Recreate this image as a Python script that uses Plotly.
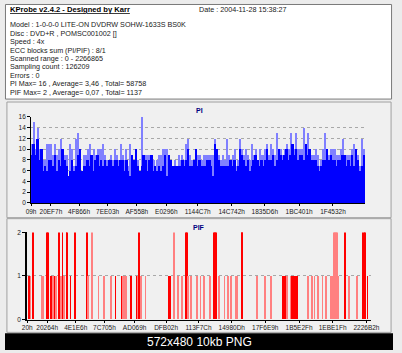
import plotly.graph_objects as go

W, H = 402, 353

# ---------------- data ----------------
header_title = "KProbe v2.4.2 - Designed by Karr"
header_date = "Date : 2004-11-28 15:38:27"
header_lines = [
    "Model : 1-0-0-0 LITE-ON DVDRW SOHW-1633S BS0K",
    "Disc : DVD+R , POMSC001002 []",
    "Speed : 4x",
    "ECC blocks sum (PI/PIF) : 8/1",
    "Scanned range : 0 - 2266865",
    "Sampling count : 126209",
    "Errors : 0",
    "PI Max= 16 , Average= 3,46 , Total= 58758",
    "PIF Max= 2 , Average= 0,07 , Total= 1137",
]
scan_end = 2266865

pi_dark = [
    9, 11, 9, 12, 8, 10, 6, 7, 6, 8,
    8, 7, 9, 6, 8, 7, 10, 8, 7, 5,
    6, 8, 6, 7, 9, 10, 6, 7, 7, 8,
    7, 9, 6, 8, 9, 7, 8, 7, 8, 7,
    8, 8, 7, 8, 8, 7, 8, 8, 6, 8,
    6, 5, 9, 8, 10, 7, 6, 7, 9, 8,
    6, 8, 9, 6, 7, 6, 7, 6, 7, 9,
    5, 9, 8, 7, 7, 7, 7, 7, 8, 7,
    8, 10, 7, 7, 8, 10, 7, 8, 7, 7,
    7, 8, 8, 7, 5, 11, 10, 8, 7, 7,
    7, 7, 7, 8, 7, 8, 6, 7, 10, 9,
    8, 7, 8, 6, 7, 8, 9, 8, 7, 8,
    7, 8, 10, 8, 8, 9, 7, 8, 10, 9,
    8, 9, 10, 8, 9, 11, 9, 10, 8, 9,
    9, 8, 11, 9, 10, 8, 8, 8, 7, 6,
    7, 8, 8, 10, 8, 9, 8, 8, 7, 8,
    8, 9, 9, 7, 8, 7, 9, 7, 10, 8, 6, 7, 9,
]
pi_light = [
    11, 15, 10, 14, 10, 10, 8, 8, 11, 11,
    11, 9, 11, 9, 10, 12, 10, 9, 9, 5,
    11, 10, 7, 12, 13, 10, 6, 9, 9, 10,
    11, 9, 10, 9, 10, 10, 10, 11, 9, 8,
    8, 9, 8, 10, 9, 8, 11, 9, 8, 10,
    7, 11, 9, 8, 10, 8, 6, 16, 9, 9,
    9, 9, 9, 8, 7, 8, 9, 9, 10, 10,
    10, 9, 8, 7, 8, 7, 9, 8, 9, 8,
    11, 12, 9, 8, 8, 10, 9, 9, 8, 9,
    9, 9, 9, 9, 9, 12, 10, 9, 8, 9,
    8, 12, 9, 8, 9, 10, 7, 8, 12, 10,
    9, 10, 9, 8, 11, 9, 10, 8, 10, 9,
    9, 10, 11, 9, 11, 10, 9, 13, 10, 10,
    9, 10, 11, 10, 13, 11, 10, 13, 10, 10,
    10, 14, 11, 13, 10, 9, 9, 10, 9, 7,
    8, 10, 13, 10, 9, 10, 10, 10, 9, 9,
    10, 12, 9, 9, 9, 9, 10, 11, 10, 9, 7, 12, 10,
]
pi_tick_text = ["09h", "20EF7h", "4F866h", "7EE03h", "AF558h", "E0296h",
                "1144C7h", "14C742h", "1835D6h", "1BC401h", "1F4532h"]

# PIF bars: LBA position, value, shade (1 = strong red, 0 = pale red)
pif_lba = [
    40000, 133000, 137800, 209500, 235000, 260300, 264800, 315600, 393700, 429900,
    738500, 971500, 1049600, 1054100, 1230000, 1236300, 1242700, 1249000, 1416000, 1420500,
    2023700, 2030000, 2036400, 2042800, 2097400, 2214200, 2222500, 2230800,
    12700, 23500, 97200, 108000, 160700, 171500, 182200, 192600, 224200, 245700,
    287700, 400000, 471800, 510000, 552500, 584200, 626700, 633100, 641400, 654000,
    685800, 721900, 728300, 753700, 781000, 933500, 944200, 997000, 1022300, 1060500,
    1081400, 1124000, 1144900, 1166500, 1208400, 1268000, 1303700, 1325300, 1346200, 1378000,
    1388700, 1515700, 1568500, 1611000, 1691000, 1699900, 1716400, 1738000, 1748200, 1759000,
    1769700, 1779900, 1854200, 1881500, 1896700, 1917700, 1949500, 1970400, 2002200, 2013000,
    2055500, 2122800, 2178000, 2246000,
]
pif_val = [2] * 28 + [1] * 66
pif_shade = [
    1, 1, 1, 1, 1, 1, 1, 1, 1, 0,
    1, 0, 1, 1, 1, 1, 1, 1, 1, 1,
    0, 0, 0, 0, 1, 1, 1, 1,
    1, 0, 0, 0, 1, 0, 1, 0, 0, 0,
    1, 0, 0, 0, 0, 1, 1, 0, 0, 0,
    1, 1, 0, 0, 0, 1, 1, 0, 0, 0,
    0, 0, 0, 0, 0, 0, 0, 0, 0, 0,
    0, 0, 0, 0, 1, 1, 0, 0, 1, 1,
    1, 1, 0, 0, 0, 0, 0, 0, 0, 0,
    0, 0, 0, 1,
]
pif_tick_text = ["20h", "20264h", "4E1E6h", "7C705h", "AD069h", "DFB02h",
                 "113F7Ch", "14980Dh", "17F6E9h", "1B5E2Fh", "1EBE1Fh", "2226B2h"]

# ---------------- helpers ----------------
def hx(s):
    return int(s.rstrip("h"), 16)

def px(x):
    return x / W

def py(y):
    return 1 - y / H

n_pi = len(pi_dark)
step = scan_end / n_pi
pi_x = [(i + 0.5) * step for i in range(n_pi)]

fig = go.Figure()
fig.add_trace(go.Bar(x=pi_x, y=pi_light, width=step * 0.6, marker=dict(color="#8080ff", line_width=0),
                     xaxis="x", yaxis="y", showlegend=False))
fig.add_trace(go.Bar(x=pi_x, y=pi_dark, width=step, marker=dict(color="#0000ff", line_width=0),
                     xaxis="x", yaxis="y", showlegend=False))
fig.add_trace(go.Bar(x=pif_lba, y=pif_val, width=5000,
                     marker=dict(color=["#ff0000" if s else "#ff8080" for s in pif_shade], line_width=0),
                     xaxis="x2", yaxis="y3", showlegend=False))

tickfont = dict(family="Liberation Sans, Arial", size=6.5, color="#202020")

def yax(domain, rng, dtick, **kw):
    d = dict(domain=domain, range=rng, dtick=dtick, showgrid=True, gridcolor="#a8a8a8",
             griddash="dot", gridwidth=1, showline=True, linecolor="black", linewidth=1,
             ticks="outside", ticklen=3, tickcolor="black", tickfont=tickfont,
             zeroline=False, fixedrange=True)
    d.update(kw)
    return d

pi_dom_x = [px(27), px(373)]
pi_dom_y = [py(203), py(115)]
pif_dom_x = [px(23), px(379)]
pif_dom_y = [py(322), py(233)]

fig.update_layout(
    width=W, height=H, margin=dict(l=0, r=0, t=0, b=0),
    paper_bgcolor="#ececec", plot_bgcolor="#f5f5fd",
    barmode="overlay", bargap=0,
    xaxis=dict(domain=pi_dom_x, anchor="y", range=[0, scan_end],
               tickvals=[hx(t) for t in pi_tick_text], ticktext=pi_tick_text,
               tickfont=tickfont, ticks="outside", ticklen=2, tickcolor="black",
               showline=True, linecolor="black", linewidth=1, showgrid=False, zeroline=False),
    yaxis=yax(pi_dom_y, [0, 16], 2, anchor="x"),
    yaxis2=yax(pi_dom_y, [0, 16], 2, anchor="x", overlaying="y", side="right", showgrid=False),
    xaxis2=dict(domain=pif_dom_x, anchor="y3", range=[0, scan_end],
                tickvals=[hx(t) for t in pif_tick_text], ticktext=pif_tick_text,
                tickfont=tickfont, ticks="outside", ticklen=2, tickcolor="black",
                showline=True, linecolor="black", linewidth=1, showgrid=False, zeroline=False),
    yaxis3=yax(pif_dom_y, [0, 2], 1, anchor="x2", linewidth=2),
    yaxis4=yax(pif_dom_y, [0, 2], 1, anchor="x2", overlaying="y3", side="right",
               showgrid=False, linewidth=2),
)

shapes = [
    dict(type="rect", xref="paper", yref="paper", x0=px(0.5), x1=px(400.5), y0=py(97), y1=py(0.5),
         fillcolor="white", line=dict(color="#7a7a7a", width=1), layer="below"),
    dict(type="rect", xref="paper", yref="paper", x0=px(2), x1=px(400), y0=py(218), y1=py(100),
         fillcolor="#f0f0f0", line=dict(color="#a0a0a0", width=1), layer="below"),
    dict(type="rect", xref="paper", yref="paper", x0=px(2), x1=px(400), y0=py(335), y1=py(219),
         fillcolor="#f0f0f0", line=dict(color="#a0a0a0", width=1), layer="below"),
    dict(type="rect", xref="paper", yref="paper", x0=0, x1=1, y0=0, y1=py(336),
         fillcolor="black", line=dict(width=0), layer="below"),
]
fig.update_layout(shapes=shapes)

hfont = dict(family="Liberation Sans, Arial", size=7.2, color="#202020")
ann = [
    dict(x=px(3), y=py(6), text="<b><u>" + header_title + "</u></b>", font=dict(family="Liberation Sans, Arial", size=7.6, color="black"),
         xanchor="left", yanchor="middle"),
    dict(x=px(199), y=py(6), text=header_date, font=hfont, xanchor="left", yanchor="middle"),
]
for i, line in enumerate(header_lines):
    ann.append(dict(x=px(3), y=py(21 + i * 8.65), text=line, font=hfont, xanchor="left", yanchor="middle"))
ann.append(dict(x=px(201), y=py(109), text="<b>PI</b>", font=dict(family="Liberation Sans, Arial", size=7, color="#000080"),
                xanchor="center", yanchor="middle"))
ann.append(dict(x=px(201), y=py(228), text="<b>PIF</b>", font=dict(family="Liberation Sans, Arial", size=7, color="#000080"),
                xanchor="center", yanchor="middle"))
ann.append(dict(x=px(201), y=py(344.5), text="572x480 10kb PNG", font=dict(family="Liberation Sans, Arial", size=12, color="white"),
                xanchor="center", yanchor="middle"))
for a in ann:
    a.update(xref="paper", yref="paper", showarrow=False)
fig.update_layout(annotations=ann)

fig.write_html("out.html")
